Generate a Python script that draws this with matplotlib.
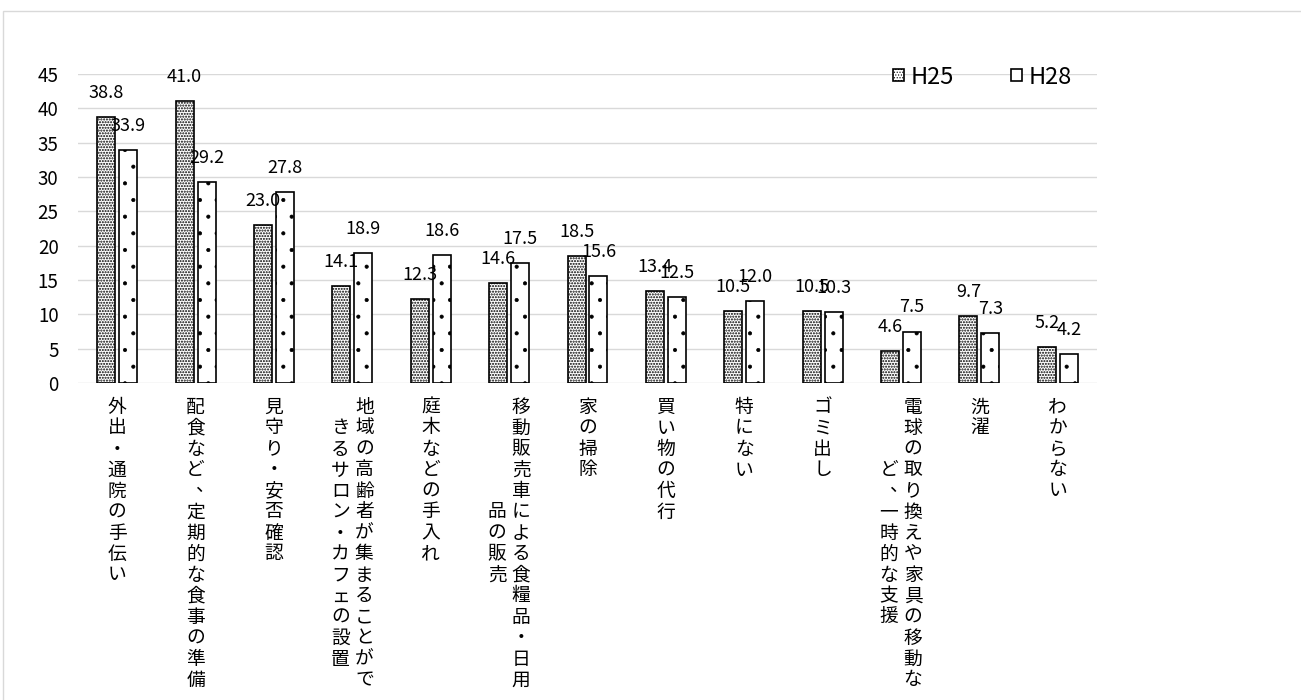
import matplotlib
matplotlib.use('Agg')
import matplotlib.pyplot as plt
import numpy as np
from matplotlib.patches import Rectangle

plt.rcParams['font.family'] = ['Noto Sans CJK JP', 'DejaVu Sans']

# Data
categories = [
    '外出・通院の手伝い',
    '配食など、定期的な食事の準備',
    '見守り・安否確認',
    '地域の高齢者が集まることができるサロン・カフェの設置',
    '庭木などの手入れ',
    '移動販売車による食糧品・日用品の販売',
    '家の掃除',
    '買い物の代行',
    '特にない',
    'ゴミ出し',
    '電球の取り換えや家具の移動など、一時的な支援',
    '洗濯',
    'わからない',
]
h25 = [38.8, 41.0, 23.0, 14.1, 12.3, 14.6, 18.5, 13.4, 10.5, 10.5, 4.6, 9.7, 5.2]
h28 = [33.9, 29.2, 27.8, 18.9, 18.6, 17.5, 15.6, 12.5, 12.0, 10.3, 7.5, 7.3, 4.2]
series_names = ['H25', 'H28']

W, H = 1301, 700
fig = plt.figure(figsize=(W / 100, H / 100), dpi=100)

# light frame around the chart area
fig.add_artist(Rectangle((3 / W, -0.1), 1.2, (H - 11) / H + 0.1, transform=fig.transFigure,
                         fill=False, edgecolor='#d9d9d9', linewidth=1.0))

ax = fig.add_axes([78 / W, (H - 383) / H, (1097 - 78) / W, (383 - 74) / H])

x = np.arange(len(categories))
bw = 0.23
plt.rcParams['hatch.linewidth'] = 1.0
b1 = ax.bar(x - 0.14, h25, bw, facecolor='white', edgecolor='black', linewidth=1.2,
            hatch='......', label=series_names[0], zorder=3)
plt.rcParams['hatch.linewidth'] = 0.5
b2 = ax.bar(x + 0.14, h28, bw, facecolor='white', edgecolor='black', linewidth=1.2,
            hatch='.', label=series_names[1], zorder=3)

# value labels
for bars, vals in ((b1, h25), (b2, h28)):
    for rect, v in zip(bars, vals):
        ax.annotate(f'{v:.1f}', xy=(rect.get_x() + rect.get_width() / 2, v),
                    xytext=(0, 15), textcoords='offset pixels',
                    ha='center', va='bottom', fontsize=13, color='black', zorder=4,
                    annotation_clip=False)

ax.set_xlim(-0.5, len(categories) - 0.5)
ax.set_ylim(0, 45)
ax.set_yticks(np.arange(0, 46, 5))
ax.yaxis.grid(True, color='#d9d9d9', linewidth=1.0, zorder=0)
ax.set_axisbelow(True)
for s in ax.spines.values():
    s.set_visible(False)
ax.tick_params(axis='y', length=0, pad=14, labelsize=13.5)
ax.tick_params(axis='x', length=0)
ax.set_xticks([])

# vertical category labels, stacked characters, wrapped at 14 chars
pitch = 21
col_gap = 12
trans = ax.get_xaxis_transform()
for i, name in enumerate(categories):
    cols = [name[k:k + 14] for k in range(0, len(name), 14)]
    n1 = len(cols[0])
    for c, col in enumerate(cols):
        if len(cols) == 1:
            dx = 0
        else:
            dx = col_gap if c == 0 else -col_gap
        start = (n1 - len(col)) / 2 * pitch
        for j, ch in enumerate(col):
            ox, oy = dx, -(24 + start + j * pitch)
            if ch == '、':
                ox += 9
                oy += 6
            ax.annotate(ch, xy=(i, 0), xycoords=trans, xytext=(ox, oy),
                        textcoords='offset pixels', ha='center', va='center',
                        fontsize=13.5, color='black', annotation_clip=False)

leg = ax.legend(handles=[b1, b2], loc='center right',
                bbox_to_anchor=((1072 - 78) / 1019, (383 - 77) / 309),
                ncol=2, frameon=False, fontsize=17, handlelength=0.45, handleheight=0.45,
                handletextpad=0.3, columnspacing=2.4, borderpad=0, borderaxespad=0)

fig.savefig('out.png', dpi=100)
